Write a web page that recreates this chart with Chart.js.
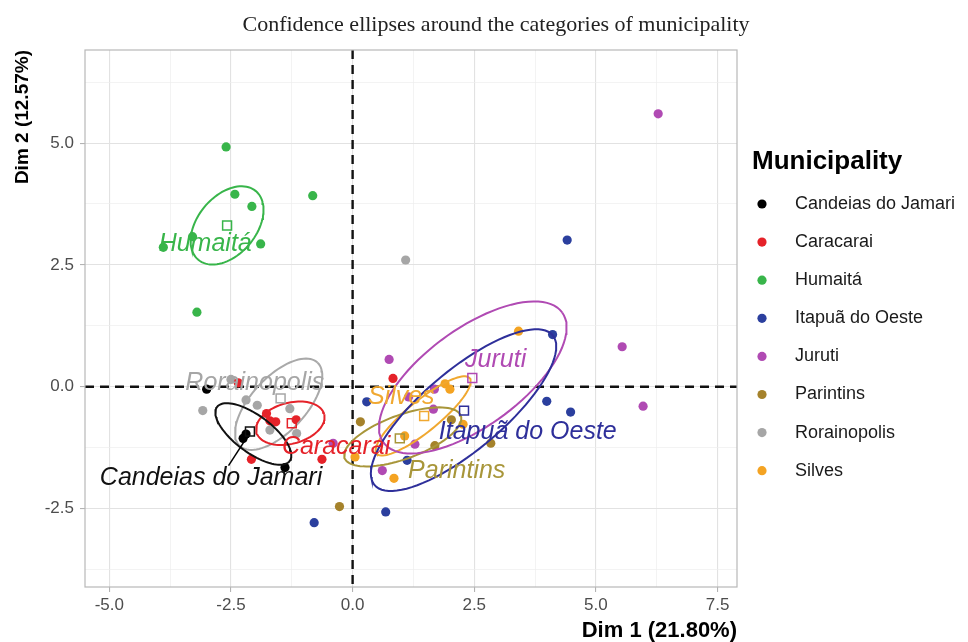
<!DOCTYPE html>
<html>
<head>
<meta charset="utf-8">
<script src="https://cdn.jsdelivr.net/npm/chart.js@4.4.0/dist/chart.umd.min.js"></script>
<style>
  html, body { margin: 0; padding: 0; background: #fff; }
  #wrap { width: 968px; height: 642px; }
</style>
</head>
<body>
<div id="wrap"><canvas id="mcaChart" width="968" height="642"></canvas></div>
<script>
// categories and colours
var municipalities = ['Candeias do Jamari', 'Caracarai', 'Humaitá', 'Itapuã do Oeste', 'Juruti', 'Parintins', 'Rorainopolis', 'Silves'];
var groupColors = ['#000000', '#E52229', '#38B54A', '#2B3F9E', '#B04AB3', '#A5822B', '#A6A6A6', '#F4A322'];
var labelColors = ['#111111', '#E52229', '#38B54A', '#2E2F9A', '#B04AB3', '#A8963A', '#A6A6A6', '#F0A830'];
var chartTitle = 'Confidence ellipses around the categories of municipality';

// individuals (Dim 1, Dim 2) per municipality
var candeiasPts = [[-3.0, -0.05], [-2.25, -1.06], [-2.19, -0.97], [-1.39, -1.66]];
var caracaraiPts = [[-2.35, 0.08], [-1.77, -0.55], [-1.58, -0.72], [-1.70, -0.70], [-1.16, -0.68], [-2.08, -1.49], [-0.63, -1.49], [0.83, 0.17]];
var humaitaPts = [[-2.60, 4.92], [-2.42, 3.95], [-2.07, 3.70], [-0.82, 3.92], [-3.29, 3.08], [-1.89, 2.93], [-3.89, 2.86], [-3.20, 1.53]];
var itapuaPts = [[4.41, 3.01], [4.11, 1.07], [3.99, -0.30], [4.48, -0.52], [0.29, -0.31], [1.12, -1.51], [0.68, -2.57], [-0.79, -2.79]];
var jurutiPts = [[6.28, 5.60], [5.54, 0.82], [5.97, -0.40], [0.75, 0.56], [1.68, -0.05], [1.15, -0.21], [1.66, -0.46], [1.28, -1.18], [0.61, -1.72], [-0.40, -1.16]];
var parintinsPts = [[-0.27, -2.46], [0.16, -0.72], [2.03, -0.68], [1.69, -1.21], [2.84, -1.16]];
var rorainopolisPts = [[-2.50, 0.15], [-3.08, -0.49], [-2.19, -0.27], [-1.96, -0.38], [-1.29, -0.45], [-1.70, -0.89], [-1.15, -0.96], [1.09, 2.60]];
var silvesPts = [[3.41, 1.14], [1.90, 0.06], [2.00, -0.05], [2.27, -0.77], [1.07, -1.01], [0.85, -1.88], [0.05, -1.44]];
var groupPoints = [candeiasPts, caracaraiPts, humaitaPts, itapuaPts, jurutiPts, parintinsPts, rorainopolisPts, silvesPts];

// category means (hollow squares)
var groupMeans = [[-2.11, -0.92], [-1.25, -0.75], [-2.58, 3.31], [2.29, -0.49], [2.46, 0.18], [0.97, -1.06], [-1.48, -0.24], [1.47, -0.60]];

// confidence ellipses: centre, semi axes [major, minor], tilt in degrees
var ellipseCenters = [[-2.04, -0.97], [-1.28, -0.75], [-2.58, 3.31], [2.28, -0.48], [2.47, 0.19], [1.03, -1.03], [-1.52, -0.36], [1.45, -0.60]];
var ellipseAxes = [[0.93, 0.38], [0.72, 0.42], [0.92, 0.60], [2.39, 0.82], [2.27, 1.0], [1.27, 0.45], [1.17, 0.56], [1.23, 0.32]];
var ellipseAngles = [-36.5, 15, 50, 40, 36, 20, 47, 39];

// text labels of the categories
var labelPositions = [[-2.91, -1.88], [-0.34, -1.24], [-3.03, 2.93], [3.60, -0.94], [2.94, 0.55], [2.14, -1.74], [-2.01, 0.08], [1.00, -0.21]];
var candeiasSegment = [[-2.55, -1.62], [-2.20, -1.08]];

// axes
var xMajorTicks = [-5, -2.5, 0, 2.5, 5, 7.5];
var xMinorTicks = [-3.75, -1.25, 1.25, 3.75, 6.25];
var yMajorTicks = [-2.5, 0, 2.5, 5];
var yMinorTicks = [-3.75, -1.25, 1.25, 3.75, 6.25];

function isMajor(v) {
  return Math.abs(v / 2.5 - Math.round(v / 2.5)) < 1e-6;
}

function ellipsePoints(i) {
  var c = ellipseCenters[i], ax = ellipseAxes[i];
  var th = ellipseAngles[i] * Math.PI / 180;
  var pts = [];
  for (var k = 0; k <= 90; k++) {
    var t = k / 90 * 2 * Math.PI;
    var u = ax[0] * Math.cos(t), v = ax[1] * Math.sin(t);
    pts.push({ x: c[0] + u * Math.cos(th) - v * Math.sin(th), y: c[1] + u * Math.sin(th) + v * Math.cos(th) });
  }
  return pts;
}

var datasets = [];
municipalities.forEach(function(name, i) {
  datasets.push({
    label: name,
    data: groupPoints[i].map(function(p) { return { x: p[0], y: p[1] }; }),
    backgroundColor: groupColors[i],
    borderWidth: 0,
    pointRadius: 4.6,
    pointHoverRadius: 4.6,
    order: 2
  });
});
municipalities.forEach(function(name, i) {
  datasets.push({
    label: name + ' ellipse',
    data: ellipsePoints(i),
    showLine: true,
    fill: false,
    borderColor: labelColors[i] === '#A6A6A6' ? '#A9A9A9' : labelColors[i],
    borderWidth: 2,
    pointRadius: 0,
    tension: 0,
    order: 1
  });
});
datasets.push({
  label: 'means',
  data: groupMeans.map(function(p) { return { x: p[0], y: p[1] }; }),
  pointStyle: 'rect',
  pointRadius: 6.3,
  backgroundColor: 'rgba(255,255,255,0)',
  borderColor: labelColors,
  pointBorderWidth: 1.5,
  order: 0
});

var fontSans = "'Liberation Sans', Arial, sans-serif";

var panelPlugin = {
  id: 'panelDecor',
  beforeDatasetsDraw: function(chart) {
    var ctx = chart.ctx, a = chart.chartArea;
    var xs = chart.scales.x, ys = chart.scales.y;
    ctx.save();
    ctx.strokeStyle = '#111';
    ctx.lineWidth = 2.4;
    ctx.setLineDash([9, 6]);
    var x0 = xs.getPixelForValue(0), y0 = ys.getPixelForValue(0);
    ctx.beginPath();
    ctx.moveTo(x0, a.top); ctx.lineTo(x0, a.bottom);
    ctx.moveTo(a.left, y0); ctx.lineTo(a.right, y0);
    ctx.stroke();
    ctx.restore();
  },
  afterDatasetsDraw: function(chart) {
    var ctx = chart.ctx;
    var xs = chart.scales.x, ys = chart.scales.y;
    ctx.save();
    // repel segment for Candeias do Jamari
    ctx.strokeStyle = '#000';
    ctx.lineWidth = 1.5;
    ctx.beginPath();
    ctx.moveTo(xs.getPixelForValue(candeiasSegment[0][0]), ys.getPixelForValue(candeiasSegment[0][1]));
    ctx.lineTo(xs.getPixelForValue(candeiasSegment[1][0]), ys.getPixelForValue(candeiasSegment[1][1]));
    ctx.stroke();
    ctx.font = 'italic 25px ' + fontSans;
    ctx.textAlign = 'center';
    ctx.textBaseline = 'middle';
    municipalities.forEach(function(name, i) {
      ctx.fillStyle = labelColors[i];
      ctx.fillText(name, xs.getPixelForValue(labelPositions[i][0]), ys.getPixelForValue(labelPositions[i][1]));
    });
    ctx.restore();
  },
  afterDraw: function(chart) {
    var ctx = chart.ctx, a = chart.chartArea;
    ctx.save();
    ctx.strokeStyle = '#b8b8b8';
    ctx.lineWidth = 1.2;
    ctx.strokeRect(a.left, a.top, a.right - a.left, a.bottom - a.top);
    // title
    ctx.fillStyle = '#222';
    ctx.font = "22px 'Liberation Serif', 'Times New Roman', serif";
    ctx.textAlign = 'center';
    ctx.textBaseline = 'middle';
    ctx.fillText(chartTitle, 496, 25);
    // legend
    ctx.fillStyle = '#000';
    ctx.font = 'bold 26px ' + fontSans;
    ctx.textAlign = 'left';
    ctx.fillText('Municipality', 752, 162);
    ctx.font = '18px ' + fontSans;
    municipalities.forEach(function(name, i) {
      var y = 204 + i * 38.1;
      ctx.fillStyle = groupColors[i];
      ctx.beginPath();
      ctx.arc(762, y, 4.6, 0, 2 * Math.PI);
      ctx.fill();
      ctx.fillStyle = '#1a1a1a';
      ctx.fillText(name, 795, y);
    });
    ctx.restore();
  }
};

function gridColor(c) {
  if (!c.tick) return 'rgba(0,0,0,0)';
  return isMajor(c.tick.value) ? '#e2e2e2' : '#eeeeee';
}
function gridWidth(c) {
  if (!c.tick) return 0;
  return isMajor(c.tick.value) ? 1.1 : 0.7;
}
function tickMarkColor(c) {
  if (!c.tick) return 'rgba(0,0,0,0)';
  return isMajor(c.tick.value) ? '#b3b3b3' : 'rgba(0,0,0,0)';
}

var ctx = document.getElementById('mcaChart').getContext('2d');
var chart = new Chart(ctx, {
  type: 'scatter',
  data: { datasets: datasets },
  options: {
    responsive: false,
    animation: false,
    layout: { padding: { top: 50, right: 231, bottom: 0, left: 0 } },
    plugins: {
      legend: { display: false },
      tooltip: { enabled: false },
      title: { display: false }
    },
    scales: {
      x: {
        type: 'linear',
        min: -5.5,
        max: 7.9,
        afterFit: function(s) { s.height = 55; },
        afterBuildTicks: function(s) {
          s.ticks = xMajorTicks.concat(xMinorTicks).sort(function(a, b) { return a - b; }).map(function(v) { return { value: v }; });
        },
        ticks: {
          autoSkip: false,
          maxRotation: 0,
          padding: 3,
          color: '#4d4d4d',
          font: { family: fontSans, size: 17 },
          callback: function(v) { return isMajor(v) ? v.toFixed(1) : ''; }
        },
        grid: { color: gridColor, lineWidth: gridWidth, tickColor: tickMarkColor, tickLength: 5, tickWidth: 1.1 },
        border: { display: false },
        title: {
          display: true,
          text: 'Dim 1 (21.80%)',
          align: 'end',
          color: '#000',
          font: { family: fontSans, size: 22, weight: 'bold', lineHeight: 1.0 },
          padding: 0
        }
      },
      y: {
        type: 'linear',
        min: -4.11,
        max: 6.91,
        afterFit: function(s) { s.width = 85; },
        afterBuildTicks: function(s) {
          s.ticks = yMajorTicks.concat(yMinorTicks).sort(function(a, b) { return a - b; }).map(function(v) { return { value: v }; });
        },
        ticks: {
          autoSkip: false,
          padding: 6,
          color: '#4d4d4d',
          font: { family: fontSans, size: 17 },
          callback: function(v) { return isMajor(v) ? v.toFixed(1) : ''; }
        },
        grid: { color: gridColor, lineWidth: gridWidth, tickColor: tickMarkColor, tickLength: 5, tickWidth: 1.1 },
        border: { display: false },
        title: {
          display: true,
          text: 'Dim 2 (12.57%)',
          align: 'end',
          color: '#000',
          font: { family: fontSans, size: 19, weight: 'bold', lineHeight: 1.0 },
          padding: { top: 13, bottom: 0 }
        }
      }
    }
  },
  plugins: [panelPlugin]
});
</script>
</body>
</html>
